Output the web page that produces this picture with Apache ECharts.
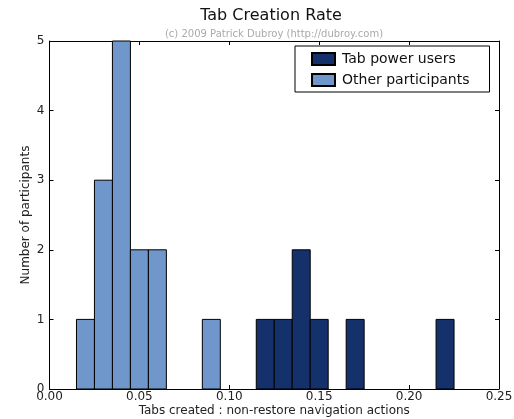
<!DOCTYPE html>
<html><head><meta charset="utf-8">
<script src="https://cdn.jsdelivr.net/npm/echarts@6/dist/echarts.min.js"></script>
<style>html,body{margin:0;padding:0;background:#fff}#c{width:514px;height:419px}</style>
</head><body><div id="c"></div>
<script>
// Histogram bins (start, end) and counts
const otherBinStart = [0.015, 0.025, 0.035, 0.045, 0.055, 0.085];
const otherBinEnd   = [0.025, 0.035, 0.045, 0.055, 0.065, 0.095];
const otherCounts   = [1, 3, 5, 2, 2, 1];
const powerBinStart = [0.115, 0.125, 0.135, 0.145, 0.165, 0.215];
const powerBinEnd   = [0.125, 0.135, 0.145, 0.155, 0.175, 0.225];
const powerCounts   = [1, 1, 2, 1, 1, 1];
const xTicks = [0, 0.05, 0.10, 0.15, 0.20, 0.25];
const yTicks = [0, 1, 2, 3, 4, 5];

const FONT = 'DejaVu Sans';
const chart = echarts.init(document.getElementById('c'));
function toData(s, e, c){ return s.map((v,i)=>[v, e[i], c[i]]); }
function renderItem(params, api){
  const p0 = api.coord([api.value(0), api.value(2)]);
  const p1 = api.coord([api.value(1), 0]);
  return {type:'rect', shape:{x:p0[0], y:p0[1], width:p1[0]-p0[0], height:p1[1]-p0[1]},
    style: api.style({stroke:'#000', lineWidth:1})};
}
const tickLabel = {fontFamily: FONT, fontSize: 12, color:'#222'};
const axisBase = {
  min: 0, axisLine:{show:true, onZero:false, lineStyle:{color:'#000', width:1}},
  axisTick:{show:true, inside:true, length:4, lineStyle:{color:'#000'}},
  splitLine:{show:false}
};
chart.setOption({
  animation:false,
  backgroundColor:'#fff',
  title:[
    {text:'Tab Creation Rate', left:266, top:3, textAlign:'center',
     textStyle:{fontFamily:FONT, fontSize:16, fontWeight:'normal', color:'#111'}},
    {text:'(c) 2009 Patrick Dubroy (http://dubroy.com)', left:269, top:24, textAlign:'center',
     textStyle:{fontFamily:FONT, fontSize:10, fontWeight:'normal', color:'#aaa'}}
  ],
  legend:{
    orient:'vertical', left:295, top:46, itemWidth:23, itemHeight:12, itemGap:7,
    padding:[6, 20, 5, 16], borderColor:'#000', borderWidth:1, backgroundColor:'#fff',
    textStyle:{fontFamily:FONT, fontSize:14, color:'#111', padding:[0,0,0,2]},
    data:[{name:'Tab power users', icon:'rect'},{name:'Other participants', icon:'rect'}]
  },
  grid:{left:49.5, right:15, top:41, bottom:30, outerBoundsMode:'none', containLabel:false},
  xAxis:[
    Object.assign({}, axisBase, {type:'value', max:0.25, interval:0.05, position:'bottom',
      name:'Tabs created : non-restore navigation actions', nameLocation:'middle', nameGap:16,
      nameMoveOverlap:false,
      nameTextStyle:{fontFamily:FONT, fontSize:12, color:'#222'},
      axisLabel:Object.assign({}, tickLabel, {margin:2, formatter:v=>v.toFixed(2)})}),
    Object.assign({}, axisBase, {type:'value', max:0.25, interval:0.05, position:'top',
      axisLabel:{show:false}})
  ],
  yAxis:[
    Object.assign({}, axisBase, {type:'value', max:5, interval:1, position:'left',
      name:'Number of participants', nameLocation:'middle', nameGap:18,
      nameMoveOverlap:false,
      nameTextStyle:{fontFamily:FONT, fontSize:12, color:'#222'},
      axisLabel:Object.assign({}, tickLabel, {margin:5})}),
    Object.assign({}, axisBase, {type:'value', max:5, interval:1, position:'right',
      axisLabel:{show:false}})
  ],
  series:[
    {name:'Tab power users', type:'custom', renderItem, xAxisIndex:0, yAxisIndex:0,
     itemStyle:{color:'#15316b', borderColor:'#000', borderWidth:1},
     encode:{x:[0,1], y:2}, data:toData(powerBinStart, powerBinEnd, powerCounts)},
    {name:'Other participants', type:'custom', renderItem, xAxisIndex:0, yAxisIndex:0,
     itemStyle:{color:'#7097cc', borderColor:'#000', borderWidth:1},
     encode:{x:[0,1], y:2}, data:toData(otherBinStart, otherBinEnd, otherCounts)}
  ]
});
</script></body></html>
